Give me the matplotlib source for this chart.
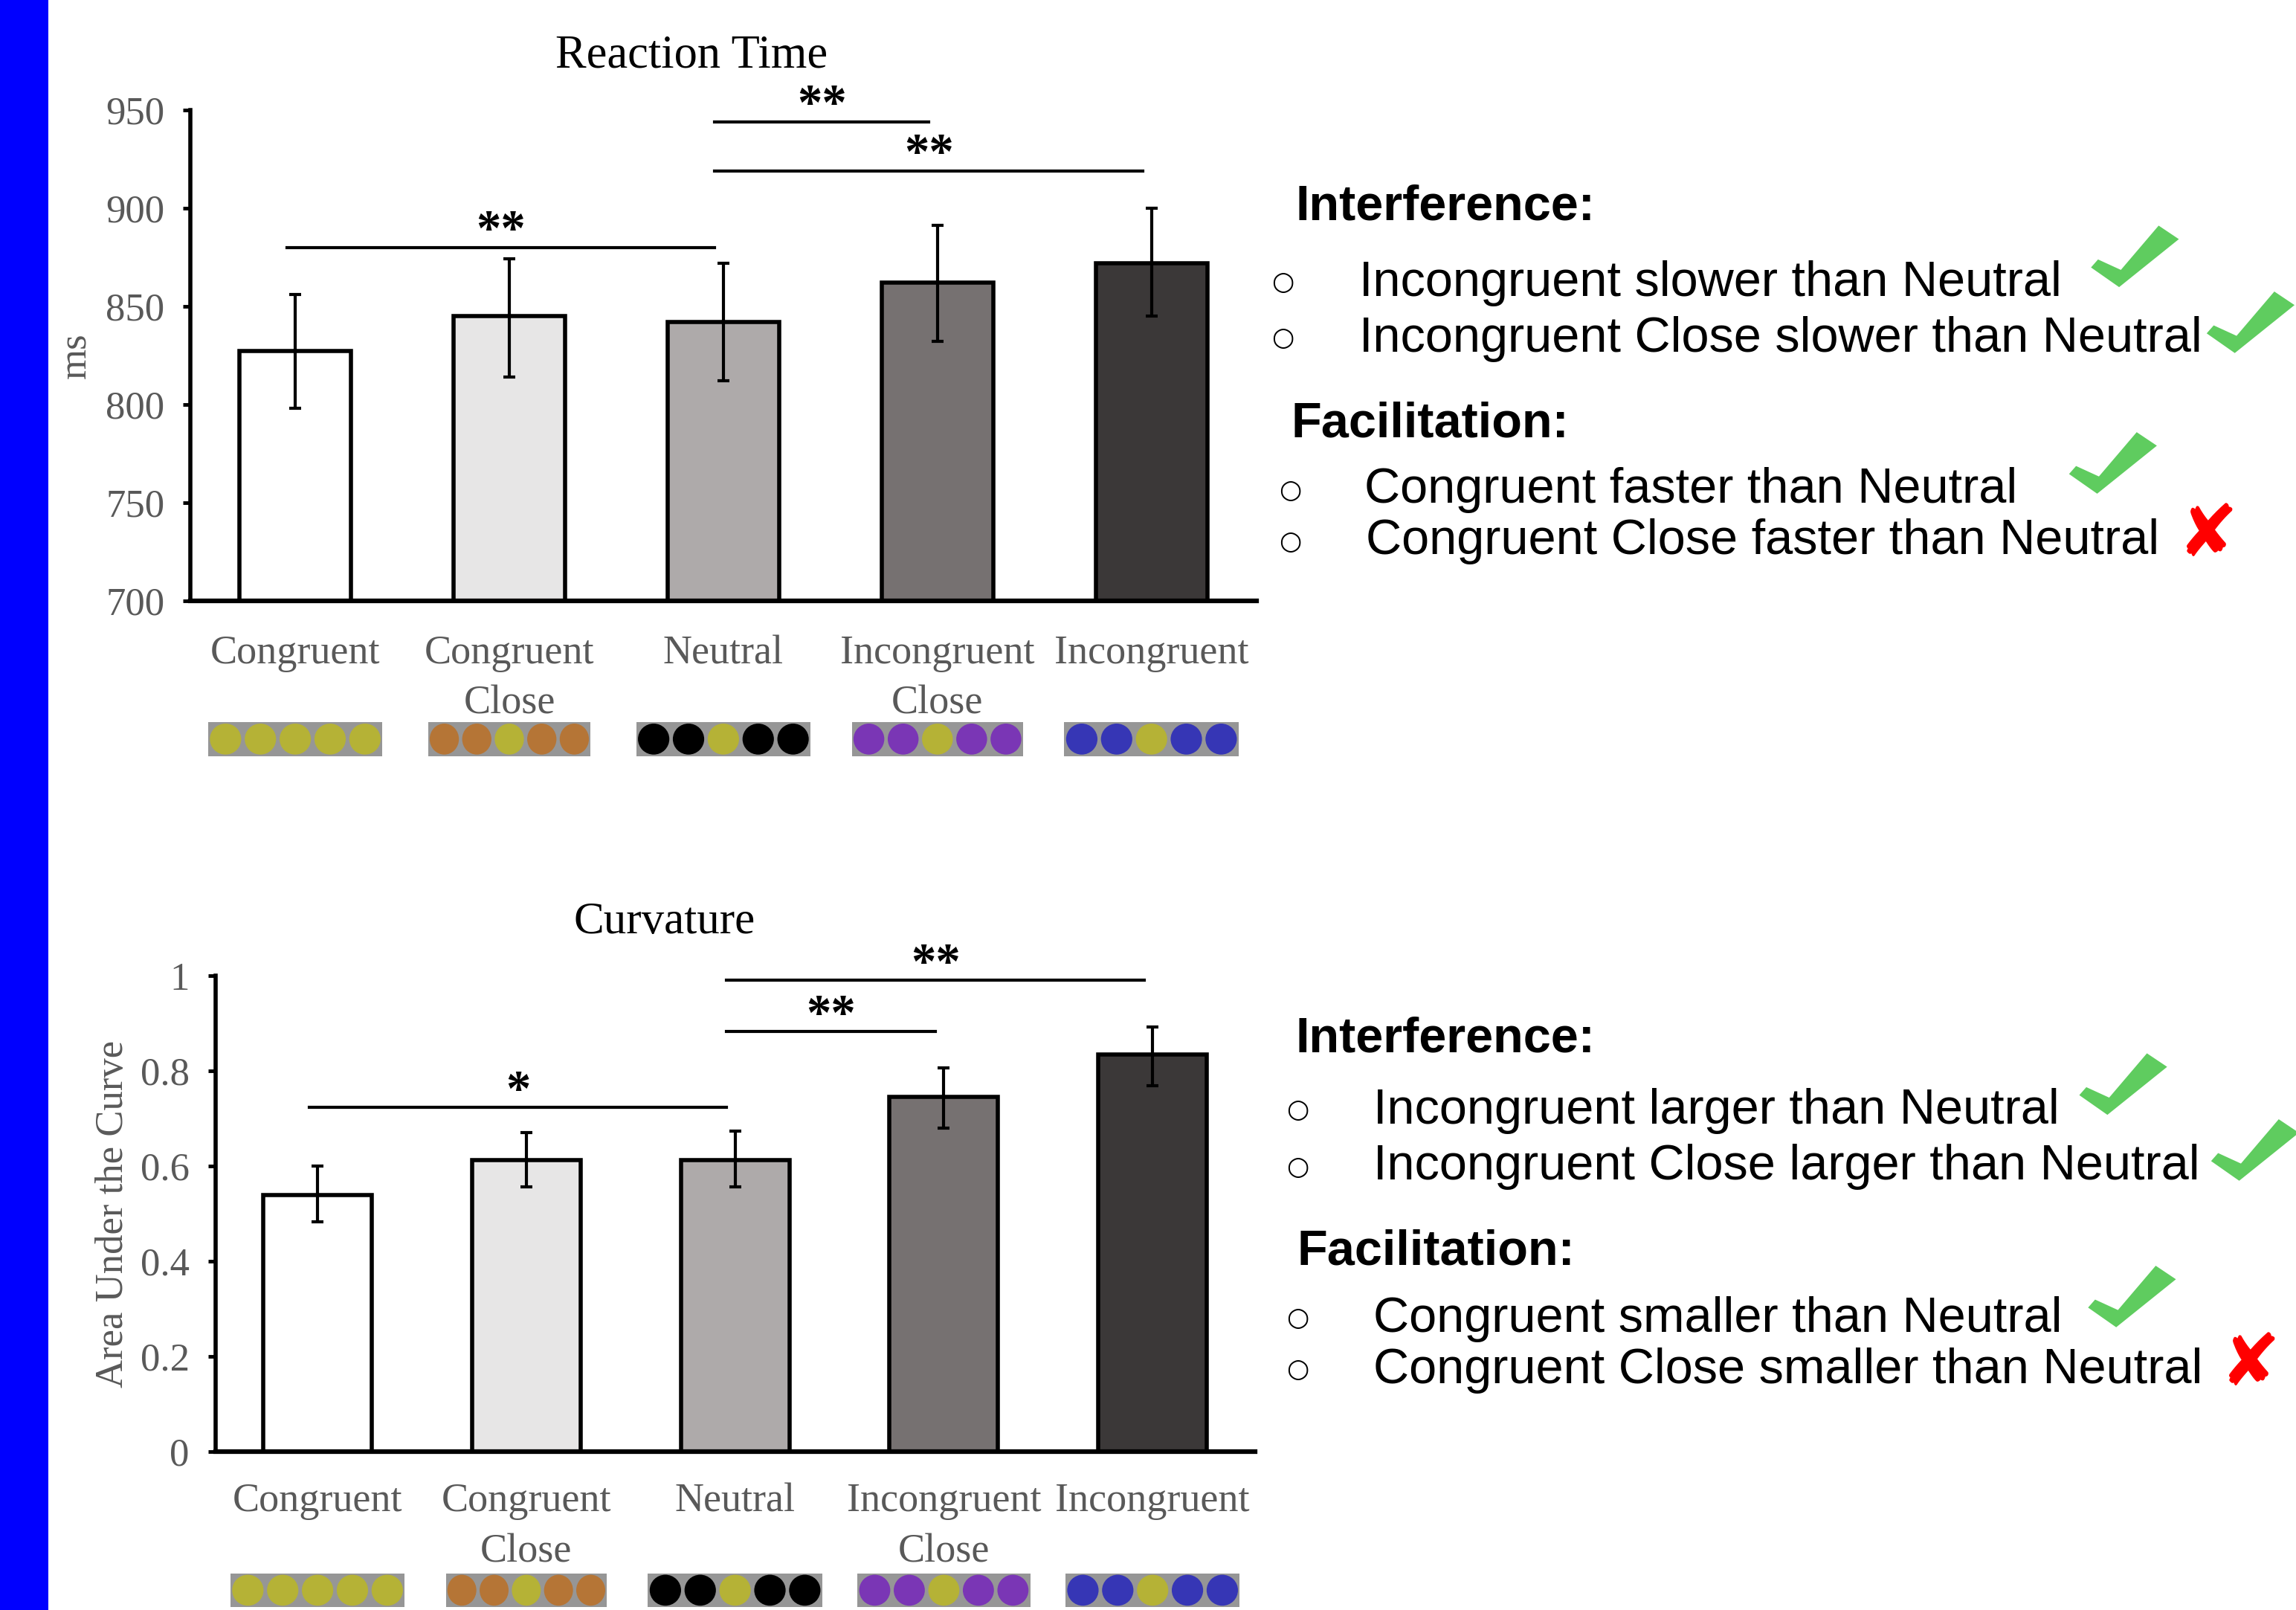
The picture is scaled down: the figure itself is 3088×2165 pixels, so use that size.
import numpy as np
import matplotlib
matplotlib.use("Agg")
import matplotlib.pyplot as plt
from matplotlib.patches import Rectangle, Ellipse, Polygon

conditions = ["Congruent", "Congruent\nClose", "Neutral",
              "Incongruent\nClose", "Incongruent"]
bar_colors = ["#ffffff", "#e7e6e6", "#aeaaaa", "#767171", "#3b3838"]

# reaction time (ms): mean and error bar ends
rt_mean = [827, 845, 842, 862, 872]
rt_err_low = [798, 814, 812, 832, 845]
rt_err_high = [856, 874, 872, 891, 900]
rt_ticks = [700, 750, 800, 850, 900, 950]
# (from bar, to bar, height, label)
rt_sig = [(0, 2, 880, "**"), (2, 3, 944, "**"), (2, 4, 919, "**")]

# curvature (area under the curve)
auc_mean = [0.54, 0.612, 0.612, 0.745, 0.834]
auc_err_low = [0.483, 0.557, 0.557, 0.680, 0.769]
auc_err_high = [0.600, 0.671, 0.674, 0.806, 0.892]
auc_ticks = [0, 0.2, 0.4, 0.6, 0.8, 1]
auc_ticklabels = ["0", "0.2", "0.4", "0.6", "0.8", "1"]
auc_sig = [(0, 2, 0.723, "*"), (2, 3, 0.883, "**"), (2, 4, 0.991, "**")]

# five dots shown under each condition
dot_patterns = [
    ["y", "y", "y", "y", "y"],
    ["o", "o", "y", "o", "o"],
    ["k", "k", "y", "k", "k"],
    ["p", "p", "y", "p", "p"],
    ["b", "b", "y", "b", "b"],
]
dot_colors = {"y": "#b5b236", "o": "#b57536", "k": "#000000",
              "p": "#7a36b5", "b": "#3636b5"}

rt_interference = ["Incongruent slower than Neutral",
                   "Incongruent Close slower than Neutral"]
rt_facilitation = ["Congruent faster than Neutral",
                   "Congruent Close faster than Neutral"]
rt_verdict = [True, True, True, False]

auc_interference = ["Incongruent larger than Neutral",
                    "Incongruent Close larger than Neutral"]
auc_facilitation = ["Congruent smaller than Neutral",
                    "Congruent Close smaller than Neutral"]
auc_verdict = [True, True, True, False]

SERIF = "Liberation Serif"
SANS = "Liberation Sans"
GRAY = "#595959"


def draw_chart(ax, mean, lo, hi, sig, ticks, ticklabels, ylim, pad, ypad):
    x = np.arange(len(conditions))
    mean = np.array(mean)
    ax.bar(x, mean, width=0.52, color=bar_colors, edgecolor="black",
           linewidth=4, zorder=2)
    yerr = [mean - np.array(lo), np.array(hi) - mean]
    ax.errorbar(x, mean, yerr=yerr, fmt="none", ecolor="black",
                elinewidth=3, capsize=5.5, capthick=3, zorder=3)
    ax.set_xlim(-0.49, 4.49)
    ax.set_ylim(*ylim)
    ax.set_yticks(ticks)
    ax.set_yticklabels(ticklabels)
    ax.set_xticks(x)
    ax.set_xticklabels(conditions, linespacing=1.45)
    for s in ["top", "right"]:
        ax.spines[s].set_visible(False)
    ax.spines["left"].set_linewidth(4)
    ax.spines["bottom"].set_linewidth(4.5)
    ax.tick_params(axis="y", direction="out", length=7, width=3.5,
                   pad=ypad, labelsize=38, labelcolor=GRAY)
    ax.tick_params(axis="x", length=0, pad=pad, labelsize=39,
                   labelcolor=GRAY)
    for lab in ax.get_xticklabels() + ax.get_yticklabels():
        lab.set_family(SERIF)

    for i1, i2, y, label in sig:
        ax.plot([i1 - 0.04, i2 - 0.04], [y, y], color="black", lw=3,
                clip_on=False)
        ax.annotate(label, xy=((i1 + i2) / 2 - 0.04, y), xytext=(0, 3),
                    textcoords="offset points", ha="center", va="baseline",
                    fontsize=48, weight="bold", family=SERIF)


def draw_dots(ov, ax, widths):
    # strips of coloured dots under the x labels, in overlay pixel units
    inv = ov.transData.inverted()
    for i, pattern in enumerate(dot_patterns):
        cx, base = inv.transform(ax.transData.transform((i, ax.get_ylim()[0])))
        w = widths[i]
        h = 23
        top = base + 83
        ov.add_patch(Rectangle((cx - w / 2, top), w, h, color="#969696",
                               lw=0))
        for k, c in enumerate(pattern):
            ex = cx - w / 2 + (k + 0.5) * w / 5
            ov.add_patch(Ellipse((ex, top + h / 2), w / 5 * 0.9, h * 0.92,
                                 color=dot_colors[c], lw=0))


def check(ov, cx, cy):
    w, h = 60, 42
    shape = [(0.0, 0.68), (0.32, 1.0), (1.0, 0.22), (0.77, 0.0),
             (0.34, 0.72), (0.08, 0.55)]
    pts = [(cx - w / 2 + px * w, cy - h / 2 + py * h) for px, py in shape]
    ov.add_patch(Polygon(pts, closed=True, color="#5fcc5f", lw=0))


def cross(ov, cx, cy):
    ov.text(cx, cy, "\u2718", color="#ff0000", fontsize=70, weight="bold",
            family="DejaVu Sans", ha="center", va="center")


def draw_notes(ov, heads, items, verdicts, icons):
    for (x, y), t in zip(heads[0], heads[1]):
        ov.text(x, y + 12, t, fontsize=48, weight="bold", family=SANS,
                va="baseline")
    for (bx, by, tx, ty), t in zip(items[0], items[1]):
        ov.text(bx, by, "\u25cb", fontsize=25, family="DejaVu Sans",
                ha="center", va="center")
        ov.text(tx, ty + 12, t, fontsize=48, family=SANS, va="baseline")
    for (ix, iy), ok in zip(icons, verdicts):
        if ok:
            check(ov, ix, iy)
        else:
            cross(ov, ix, iy)


def main():
    fig = plt.figure(figsize=(30.88, 21.65), dpi=100)
    W, H = 1568, 1099

    ax1 = fig.add_axes([130 / W, 1 - 410 / H, 728 / W, 335 / H])
    draw_chart(ax1, rt_mean, rt_err_low, rt_err_high, rt_sig, rt_ticks,
               [str(t) for t in rt_ticks], (700, 950), 33, 18)
    ax1.text(1.85, 1.11, "Reaction Time", transform=ax1.get_xaxis_transform(),
             ha="center", va="center", fontsize=45, family=SERIF)
    ax1.text(-0.107, 0.5, "ms", transform=ax1.transAxes, rotation=90,
             ha="center", va="center", fontsize=38, family=SERIF, color=GRAY)

    ax2 = fig.add_axes([147 / W, 1 - 991 / H, 710 / W, 325 / H])
    draw_chart(ax2, auc_mean, auc_err_low, auc_err_high, auc_sig, auc_ticks,
               auc_ticklabels, (0, 1), 30, 18)
    ax2.text(1.66, 1.112, "Curvature", transform=ax2.get_xaxis_transform(),
             ha="center", va="center", fontsize=44, family=SERIF)
    ax2.text(-0.0986, 0.5, "Area Under the Curve", transform=ax2.transAxes,
             rotation=90, ha="center", va="center", fontsize=38,
             family=SERIF, color=GRAY)

    # overlay in reference pixel units for strips, notes and icons
    ov = fig.add_axes([0, 0, 1, 1])
    ov.set_xlim(0, W)
    ov.set_ylim(H, 0)
    ov.axis("off")
    ov.add_patch(Rectangle((0, 0), 33, H, color="#0000ff", lw=0))

    draw_dots(ov, ax1, [119, 111, 119, 117, 119])
    draw_dots(ov, ax2, [119, 110, 119, 118, 119])

    draw_notes(ov,
               ([(885, 138), (882, 286)], ["Interference:", "Facilitation:"]),
               ([(876, 193, 928, 190), (876, 231, 928, 228),
                 (881, 335, 932, 331), (881, 370, 933, 366)],
                rt_interference + rt_facilitation),
               rt_verdict,
               [(1458, 175), (1537, 220), (1443, 316), (1508, 366)])

    draw_notes(ov,
               ([(885, 706), (886, 851)], ["Interference:", "Facilitation:"]),
               ([(886, 758, 938, 755), (886, 797, 938, 793),
                 (886, 900, 938, 897), (886, 935, 938, 932)],
                auc_interference + auc_facilitation),
               auc_verdict,
               [(1450, 740), (1540, 785), (1456, 885), (1537, 932)])

    fig.savefig("out.png", dpi=100, facecolor="white")


if __name__ == "__main__":
    main()
